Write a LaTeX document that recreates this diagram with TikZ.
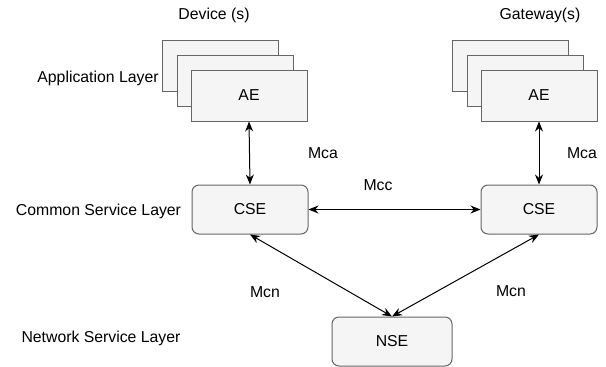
\documentclass[tikz,border=0pt]{standalone}
\usepackage{fontspec}
\setmainfont{Liberation Sans}
\usetikzlibrary{arrows.meta}
\definecolor{boxfill}{HTML}{F5F5F5}
\definecolor{boxline}{HTML}{666666}
\begin{document}
\begin{tikzpicture}[x=1pt,y=-1pt,
  font=\fontsize{15.8}{18}\selectfont,
  card/.style={draw=boxline,fill=boxfill,line width=1pt,minimum width=116pt,minimum height=51pt,inner sep=0pt},
  entity/.style={draw=boxline,fill=boxfill,line width=1pt,rounded corners=7pt,minimum width=116pt,minimum height=49pt,inner sep=0pt},
  link/.style={line width=1pt,{Stealth[length=10pt,width=8pt]}-{Stealth[length=10pt,width=8pt]}},
  lbl/.style={inner sep=0pt,anchor=center}]
\useasboundingbox (0,0) rectangle (606,367);

% device stack
\node[card] (devA) at (220,66) {};
\node[card] (devB) at (235,81) {};
\node[card] (aeL) at (249,95.5) {AE};
% gateway stack
\node[card] (gwA) at (510,66) {};
\node[card] (gwB) at (525,81) {};
\node[card] (aeR) at (539,95.5) {AE};

% common service entities
\node[entity] (cseL) at (250,209.5) {CSE};
\node[entity] (cseR) at (539,209.5) {CSE};
% network service entity
\node[entity,minimum width=120pt] (nse) at (392,341.5) {NSE};

% layer and column captions
\node[lbl] (tDev) at (214,15) {Device (s)};
\node[lbl] (tGw) at (540,15) {Gateway(s)};
\node[lbl] (tApp) at (98,78) {Application Layer};
\node[lbl] (tCom) at (98.5,211) {Common Service Layer};
\node[lbl] (tNet) at (101,338) {Network Service Layer};

% reference points
\draw[link] (aeL.south) -- (cseL.north);
\draw[link] (aeR.south) -- (cseR.north);
\draw[link] (cseL.east) -- (cseR.west);
\draw[link] (cseL.south) -- (nse.north);
\draw[link] (cseR.south) -- (nse.north);

\node[lbl] (mcaL) at (323,153) {Mca};
\node[lbl] (mcaR) at (582,153) {Mca};
\node[lbl] (mcc) at (378,185) {Mcc};
\node[lbl] (mcnL) at (265,292) {Mcn};
\node[lbl] (mcnR) at (511,291) {Mcn};
\end{tikzpicture}
\end{document}
